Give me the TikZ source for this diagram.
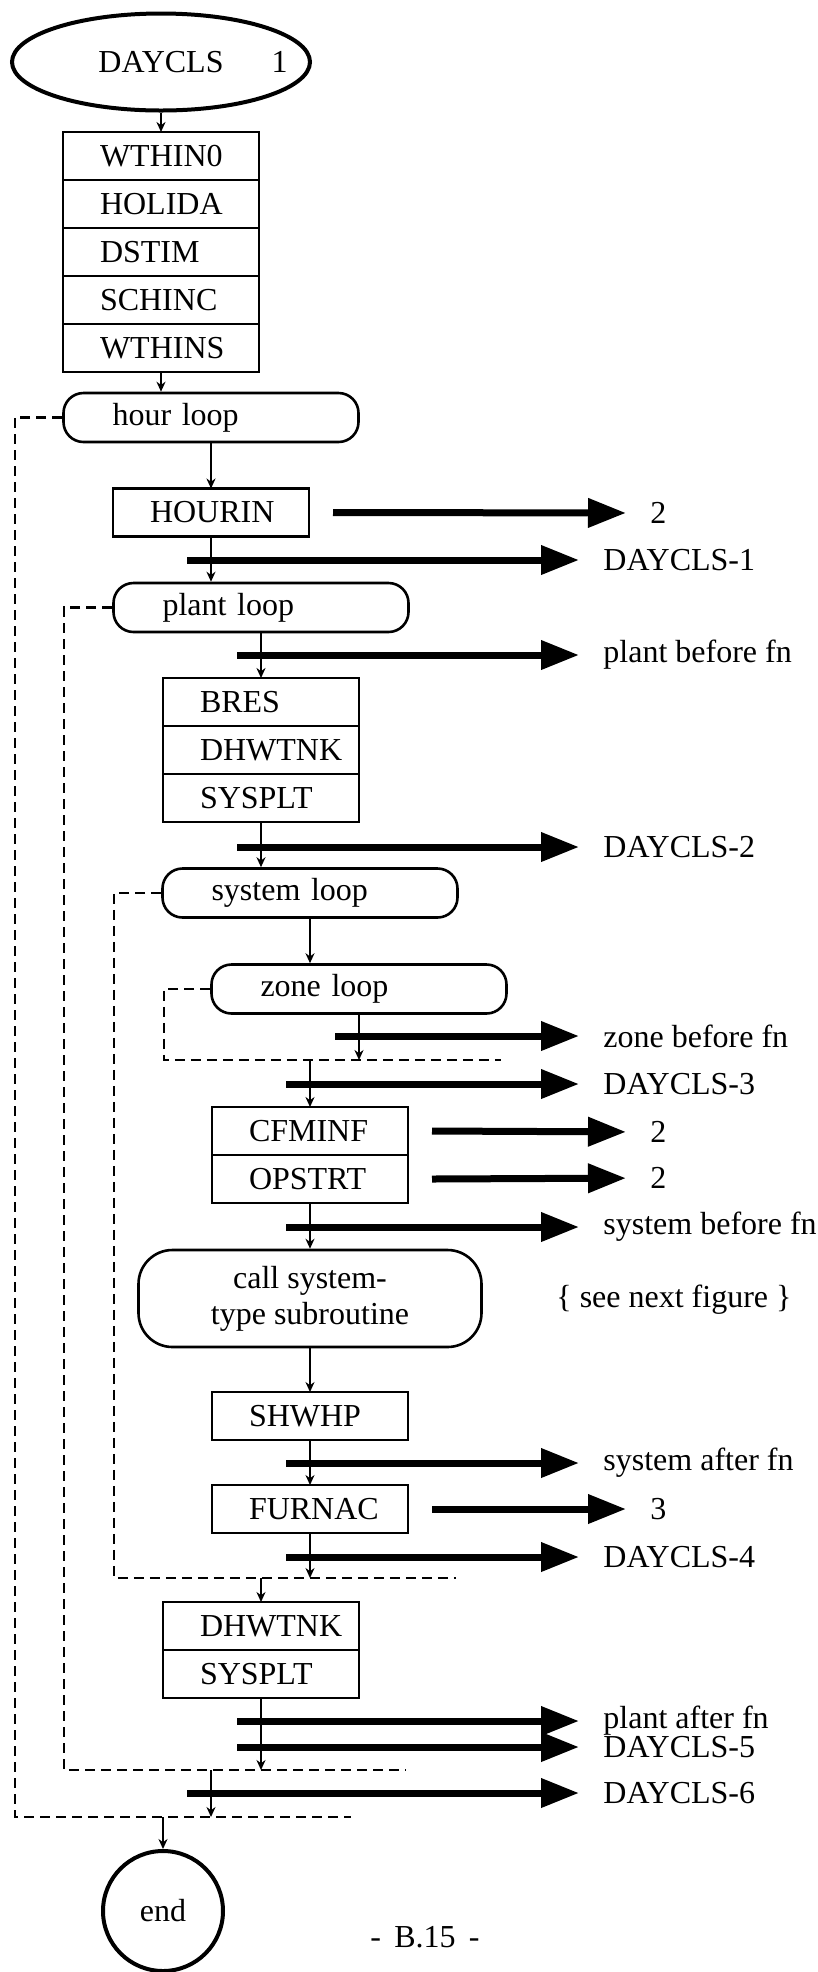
\documentclass[tikz,border=0pt]{standalone}
\usepackage{fontspec}
\setmainfont{Liberation Serif}
\usetikzlibrary{arrows.meta,positioning,shapes.geometric}
\tikzset{
  prog/.style={draw,line width=1.3pt,outer sep=0pt,minimum width=98pt,minimum height=24pt,
               text width=61pt,inner xsep=18.5pt,inner ysep=2pt,align=left},
  loopbox/.style={draw,line width=1.3pt,rounded corners=10pt,minimum width=147.5pt,
               minimum height=24.5pt,text width=98.5pt,inner xsep=24.5pt,inner ysep=2pt,align=left},
  callbox/.style={draw,line width=1.3pt,rounded corners=17pt,minimum width=171.5pt,
               minimum height=48.5pt,align=center},
  term/.style={ellipse,draw,line width=2pt,minimum width=149pt,minimum height=48.5pt,inner sep=0pt},
  endterm/.style={circle,draw,line width=2pt,minimum size=60pt,inner sep=0pt},
  fl/.style={-{Stealth[length=5pt,width=4.5pt]},line width=0.9pt},
  outarr/.style={-{Triangle[length=19pt,width=14pt]},line width=3.5pt,shorten >=12pt},
  ret/.style={line width=1.1pt,dash pattern=on 5pt off 3pt},
  lbl/.style={anchor=west,inner sep=0pt}
}

\begin{document}
\begin{tikzpicture}[x=0.5pt,y=-0.5pt,font=\fontsize{16pt}{18pt}\selectfont]
  \useasboundingbox (0,0) rectangle (818,1972);
  % main column
  \node[term,label={[xshift=16pt]center:DAYCLS\hspace{24pt}1}] (daycls) at (161,62) {};
  \node[prog] (wthin0) at (161,156) {WTHIN0};
  \node[prog,below=0pt of wthin0] (holida) {HOLIDA};
  \node[prog,below=0pt of holida] (dstim) {DSTIM};
  \node[prog,below=0pt of dstim] (schinc) {SCHINC};
  \node[prog,below=0pt of schinc] (wthins) {WTHINS};
  \node[loopbox] (hour) at (211,417.5) {hour loop};
  \node[prog] (hourin) at (211,512.5) {HOURIN};
  \node[loopbox] (plant) at (261,607.5) {plant loop};
  \node[prog] (bres) at (261,702) {BRES};
  \node[prog,below=0pt of bres] (dhwtnka) {DHWTNK};
  \node[prog,below=0pt of dhwtnka] (sysplta) {SYSPLT};
  \node[loopbox] (system) at (310,893) {system loop};
  \node[loopbox] (zone) at (359,989) {zone loop};
  \node[prog] (cfminf) at (310,1131) {CFMINF};
  \node[prog,below=0pt of cfminf] (opstrt) {OPSTRT};
  \node[callbox] (call) at (310,1298.5) {call system-\\type subroutine};
  \node[prog] (shwhp) at (310,1416) {SHWHP};
  \node[prog] (furnac) at (310,1509) {FURNAC};
  \node[prog] (dhwtnkb) at (261,1626) {DHWTNK};
  \node[prog,below=0pt of dhwtnkb] (syspltb) {SYSPLT};
  \node[endterm] (fin) at (163,1911) {end};

  % loop return corners
  \coordinate (hourc) at (15,1817);   \coordinate (houre) at (351,1817);
  \coordinate (plantc) at (64,1770);  \coordinate (plante) at (406,1770);
  \coordinate (sysc) at (114,1578);   \coordinate (syse) at (456,1578);
  \coordinate (zonec) at (164,1060);  \coordinate (zonee) at (501,1060);

  % output labels
  \node[lbl] (o2a) at (650,513) {2};
  \node[lbl] (od1) at (603,560) {DAYCLS-1};
  \node[lbl] (opb) at (603,655) {plant before fn};
  \node[lbl] (od2) at (603,847) {DAYCLS-2};
  \node[lbl] (ozb) at (603,1036) {zone before fn};
  \node[lbl] (od3) at (603,1084) {DAYCLS-3};
  \node[lbl] (o2b) at (650,1132) {2};
  \node[lbl] (o2c) at (650,1178) {2};
  \node[lbl] (osb) at (603,1227) {system before fn};
  \node[lbl] (see) at (556,1300) {\{ see next figure \}};
  \node[lbl] (osa) at (603,1463) {system after fn};
  \node[lbl] (o3) at (650,1509) {3};
  \node[lbl] (od4) at (603,1557) {DAYCLS-4};
  \node[lbl] (opa) at (603,1721) {plant after fn};
  \node[lbl] (od5) at (603,1747) {DAYCLS-5};
  \node[lbl] (od6) at (603,1793) {DAYCLS-6};
  \node (page) at (425,1937) {- \,B.15\, -};

  % outputs
  \draw[outarr] ([xshift=12pt]hourin.east) -- (o2a.west);
  \draw[outarr] ([xshift=-12pt]hourin |- od1.west) -- (od1.west);
  \draw[outarr] ([xshift=-12pt]plant |- opb.west) -- (opb.west);
  \draw[outarr] ([xshift=-12pt]sysplta |- od2.west) -- (od2.west);
  \draw[outarr] ([xshift=-12pt]zone |- ozb.west) -- (ozb.west);
  \draw[outarr] ([xshift=-12pt]cfminf |- od3.west) -- (od3.west);
  \draw[outarr] ([xshift=12pt]cfminf.east) -- (o2b.west);
  \draw[outarr] ([xshift=12pt]opstrt.east) -- (o2c.west);
  \draw[outarr] ([xshift=-12pt]opstrt |- osb.west) -- (osb.west);
  \draw[outarr] ([xshift=-12pt]shwhp |- osa.west) -- (osa.west);
  \draw[outarr] ([xshift=12pt]furnac.east) -- (o3.west);
  \draw[outarr] ([xshift=-12pt]furnac |- od4.west) -- (od4.west);
  \draw[outarr] ([xshift=-12pt]syspltb |- opa.west) -- (opa.west);
  \draw[outarr] ([xshift=-12pt]syspltb |- od5.west) -- (od5.west);
  \draw[outarr] ([xshift=-12pt]hour |- od6.west) -- (od6.west);

  % flow
  \draw[fl] (daycls) -- (wthin0);
  \draw[fl] (wthins) -- (wthins |- hour.north);
  \draw[fl] (hour) -- (hourin);
  \draw[fl] (hourin) -- (hourin |- plant.north);
  \draw[fl] (plant) -- (bres);
  \draw[fl] (sysplta) -- (sysplta |- system.north);
  \draw[fl] (system) -- (system |- zone.north);
  \draw[fl] (zone) -- (zone |- zonec);
  \draw[fl] (cfminf |- zonec) -- (cfminf);
  \draw[fl] (opstrt) -- (call);
  \draw[fl] (call) -- (shwhp);
  \draw[fl] (shwhp) -- (furnac);
  \draw[fl] (furnac) -- (furnac |- sysc);
  \draw[fl] (dhwtnkb |- sysc) -- (dhwtnkb);
  \draw[fl] (syspltb) -- (syspltb |- plantc);
  \draw[fl] (hour |- plantc) -- (hour |- hourc);
  \draw[fl] (fin |- hourc) -- (fin);

  % loop returns
  \draw[ret] (hour.west) -| (hourc) -- (houre);
  \draw[ret] (plant.west) -| (plantc) -- (plante);
  \draw[ret] (system.west) -| (sysc) -- (syse);
  \draw[ret] (zone.west) -| (zonec) -- (zonee);
\end{tikzpicture}
\end{document}
